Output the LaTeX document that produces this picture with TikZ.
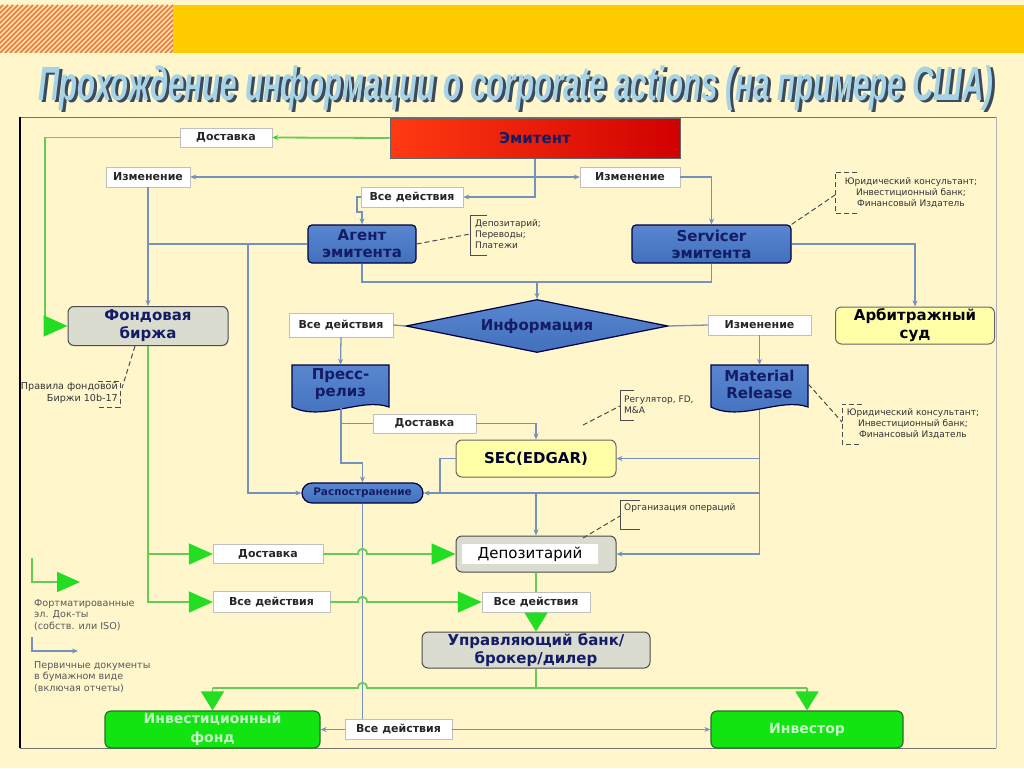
\documentclass[tikz,border=0pt]{standalone}
\usepackage{fontspec}
\setmainfont{Liberation Sans}
\newfontfamily\dv{DejaVu Sans}
\usetikzlibrary{arrows.meta,shapes.geometric}
\definecolor{bg}{HTML}{FFF6CC}
\definecolor{bandy}{HTML}{FFCC00}
\definecolor{hatchbg}{HTML}{FFE2B0}
\definecolor{hatchfg}{HTML}{EE7A3A}
\definecolor{titlec}{HTML}{A6D4E6}
\definecolor{titlesh}{HTML}{3C4A5C}
\definecolor{lnblue}{HTML}{7393BC}
\definecolor{lngreen}{HTML}{66CC55}
\definecolor{arrgreen}{HTML}{22DD22}
\definecolor{nbtop}{HTML}{5A86D0}
\definecolor{nbbot}{HTML}{4170BC}
\definecolor{navy}{HTML}{141C66}
\definecolor{boxgray}{HTML}{D9DCCF}
\definecolor{boxyel}{HTML}{FFFFA8}
\definecolor{grnfill}{HTML}{11E411}
\definecolor{grnborder}{HTML}{2A6E2A}
\definecolor{grntext}{HTML}{C4F4C4}
\definecolor{emitL}{HTML}{FF3A12}
\definecolor{emitR}{HTML}{D00000}
\tikzset{
 lbl/.style={draw=black!25, fill=white, inner sep=0pt, font=\dv\bfseries\fontsize{11}{13}\selectfont, text=black!85},
 bluebox/.style={draw=black!75!blue, line width=1.2pt, rounded corners=4pt, top color=nbtop, bottom color=nbbot, inner sep=0pt, align=center, font=\dv\bfseries\fontsize{15}{17}\selectfont, text=navy},
 graybox/.style={draw=black!70, line width=1pt, rounded corners=6pt, fill=boxgray, inner sep=0pt, align=center, font=\dv\bfseries\fontsize{15}{18}\selectfont, text=navy},
 yelbox/.style={draw=black!60, line width=1pt, rounded corners=6pt, fill=boxyel, inner sep=0pt, align=center, font=\dv\bfseries\fontsize{15}{18}\selectfont, text=black!85!blue},
 grnbox/.style={draw=grnborder, line width=1.2pt, rounded corners=6pt, fill=grnfill, inner sep=0pt, align=center, font=\dv\bfseries\fontsize{14}{19}\selectfont, text=grntext},
 docbox/.style={inner sep=0pt, align=center, font=\dv\bfseries\fontsize{15}{17}\selectfont, text=navy},
 docshape/.style={draw=black!75!blue, line width=1.2pt, top color=nbtop, bottom color=nbbot},
 ann/.style={font=\dv\fontsize{9}{11}\selectfont, text=black!80, inner sep=0pt},
 legtxt/.style={font=\dv\fontsize{9.6}{11.5}\selectfont, text=black!65, inner sep=0pt},
 bl/.style={draw=lnblue, line width=1.3pt},
 bla/.style={bl, -{Stealth[length=6pt,width=5pt]}},
 gl/.style={draw=lngreen, line width=1.8pt},
 gla/.style={gl, -{Triangle[length=24pt,width=21pt,color=arrgreen]}},
 glad/.style={gl, -{Triangle[length=19pt,width=23pt,color=arrgreen]}},
 dsh/.style={draw=black!70, line width=1pt, dash pattern=on 5pt off 3pt},
 brk/.style={draw=black!70, line width=0.9pt},
}
\begin{document}
\begin{tikzpicture}[x=1pt,y=-1pt]
\useasboundingbox (0,0) rectangle (1024,768);
\fill[bg] (0,0) rectangle (1024,768);
% top band
\fill[bandy] (173,5) rectangle (1024,53);
\fill[hatchbg] (0,5) rectangle (173,53);
\begin{scope}
\clip (0,5) rectangle (173,53);
\foreach \i in {-60,-55,...,180} \draw[hatchfg, line width=1.6pt] (\i,53) -- (\i+48,5);
\end{scope}
% title
\node[anchor=base west, inner sep=0, text=titlesh] at (41.5,102.5) {\resizebox{955pt}{\height}{\bfseries\itshape\fontsize{48}{50}\selectfont Прохождение информации о corporate actions (на примере США)}};
\node[anchor=base west, inner sep=0, text=titlec] (title) at (38.5,100) {\resizebox{955pt}{\height}{\bfseries\itshape\fontsize{48}{50}\selectfont Прохождение информации о corporate actions (на примере США)}};
% frame
\draw[black!55, line width=0.9pt] (20,117) -- (996,117);
\draw[black!30, line width=0.9pt] (996,117) -- (996,748);
\draw[black!55, line width=0.9pt] (20,748) -- (996,748);
\draw[black, line width=1.6pt] (20,117) -- (20,748);

% document shapes
\draw[docshape] (292,365) -- (389,365) -- (389,407) .. controls (362,397) and (322,422) .. (292,407) -- cycle;
\draw[docshape] (711,365) -- (808,365) -- (808,407) .. controls (781,397) and (741,422) .. (711,407) -- cycle;

% nodes
\node[draw=black!60, line width=1pt, left color=emitL, right color=emitR, minimum width=290, minimum height=40, inner sep=0, font=\dv\bfseries\fontsize{15}{17}\selectfont, text=navy] (emit) at (535,138) {Эмитент};
\node[lbl, minimum width=92, minimum height=19] (dost1) at (226,137.5) {Доставка};
\node[lbl, minimum width=84, minimum height=20] (izm1) at (148,177) {Изменение};
\node[lbl, minimum width=100, minimum height=20] (izm2) at (630,177) {Изменение};
\node[lbl, minimum width=102, minimum height=20] (vse1) at (412,197) {Все действия};
\node[bluebox, minimum width=108, minimum height=38] (agent) at (362,244) {Агент\\эмитента};
\node[bluebox, minimum width=159, minimum height=38] (serv) at (711.5,244) {Servicer\\эмитента};
\node[diamond, aspect=5, draw=black!75!blue, line width=1.2pt, top color=nbtop, bottom color=nbbot, minimum width=262, minimum height=53, inner sep=0, font=\dv\bfseries\fontsize{15}{17}\selectfont, text=navy] (info) at (537,326) {Информация};
\node[lbl, minimum width=104, minimum height=24] (vse2) at (341,325) {Все действия};
\node[lbl, minimum width=103, minimum height=20] (izm3) at (759.5,325) {Изменение};
\node[graybox, minimum width=160, minimum height=39] (birzha) at (148,326) {Фондовая\\биржа};
\node[yelbox, minimum width=159, minimum height=37, text=black!85!navy] (sud) at (915,325.5) {Арбитражный\\суд};
\node[docbox, minimum width=97, minimum height=38] (press) at (340.5,384) {Пресс-\\релиз};
\node[docbox, minimum width=97, minimum height=38] (matrel) at (759.5,384) {Material\\Release};
\node[lbl, minimum width=103, minimum height=19] (dost2) at (424.5,423.5) {Доставка};
\node[yelbox, minimum width=160, minimum height=37] (sec) at (536,458.5) {SEC(EDGAR)};
\node[draw=black!75!blue, line width=1.2pt, rounded corners=10pt, top color=nbtop, bottom color=nbbot, minimum width=121, minimum height=20, inner sep=0, font=\dv\bfseries\fontsize{10.5}{12}\selectfont, text=navy] (rasp) at (362.5,493) {Распостранение};
\node[graybox, minimum width=160, minimum height=36] (depo) at (536,554) {};
\node[fill=white, minimum width=136, minimum height=20, inner sep=0, font=\dv\fontsize{15}{17}\selectfont, text=black] (depot) at (530,554) {Депозитарий};
\node[lbl, minimum width=110, minimum height=19] (dost3) at (268,554) {Доставка};
\node[lbl, minimum width=117, minimum height=21] (vse3) at (271.5,602) {Все действия};
\node[lbl, minimum width=108, minimum height=20] (vse4) at (536,602) {Все действия};
\node[graybox, minimum width=228, minimum height=36] (bank) at (536,650) {Управляющий банк/\\брокер/дилер};
\node[grnbox, minimum width=215, minimum height=37] (fond) at (212.5,729.5) {Инвестиционный\\фонд};
\node[grnbox, minimum width=192, minimum height=37] (investor) at (807,729.5) {Инвестор};
\node[lbl, minimum width=107, minimum height=20] (vse5) at (398.5,729.5) {Все действия};

% annotations
\node[ann, anchor=west, align=left] (a1) at (475,234) {Депозитарий;\\Переводы;\\Платежи};
\draw[brk] (487,215) -- (470,215) -- (470,255) -- (487,255);
\coordinate (b1) at (470,234);
\draw[dsh] (agent.east) -- (b1);

\node[ann, align=center] (a2) at (911,193) {Юридический консультант;\\Инвестиционный банк;\\Финансовый Издатель};
\draw[dsh] (857,172) -- (835,172) -- (835,213) -- (857,213);
\coordinate (b2) at (835,195);
\draw[dsh] (serv.north east) -- (b2);

\node[ann, anchor=west, align=left] (a3) at (624,404.5) {Регулятор, FD,\\M\&A};
\draw[brk] (634,390) -- (620,390) -- (620,420) -- (634,420);
\coordinate (b3) at (620,406);
\coordinate (d3) at (583,425);
\draw[dsh] (d3) -- (b3);

\node[ann, align=center] (a4) at (913,424) {Юридический консультант;\\Инвестиционный банк;\\Финансовый Издатель};
\draw[dsh] (862,404) -- (842,404) -- (842,444) -- (862,444);
\coordinate (b4) at (842,422);
\draw[dsh] (matrel.east) -- (b4);

\node[ann, anchor=west] (a5) at (624,508) {Организация операций};
\draw[brk] (640,500) -- (620,500) -- (620,529) -- (640,529);
\coordinate (b5) at (620,516);
\coordinate (d5) at (583,538);
\draw[dsh] (d5) -- (b5);

\node[legtxt, text=black!80, anchor=east, align=right] (a6) at (118,393) {Правила фондовой\\Биржи 10b-17};
\draw[dsh] (98,381) -- (120,381) -- (120,407) -- (98,407);
\coordinate (b6) at (122,388);
\draw[dsh] ([xshift=-13pt]birzha.south) -- (b6);

% legend
\coordinate (lg1) at (32,558);
\coordinate (lg2) at (80,582);
\draw[gl, -{Triangle[length=23pt,width=20pt,color=arrgreen]}] (lg1) |- (lg2);
\node[legtxt, anchor=north west, align=left] (lt1) at (34,599) {Фортматированные\\эл. Док-ты\\(собств. или ISO)};
\coordinate (lb1) at (32,637);
\coordinate (lb2) at (78,651);
\draw[bla] (lb1) |- (lb2);
\node[legtxt, anchor=north west, align=left] (lt2) at (34,661) {Первичные документы\\в бумажном виде\\(включая отчеты)};

% blue connectors
\coordinate (j1) at (535,177);
\draw[bla] (emit.south) |- (vse1.east);
\draw[bla] (j1) -- (izm1.east);
\draw[bla] (j1) -- (izm2.west);
\draw[bla] (vse1.west) -- (357,197) -- (357,212) -| (agent.north);
\draw[bla] (izm1.south) -- (birzha.north);
\coordinate (j2) at (148,244);
\draw[bl] (j2) -- (agent.west);
\coordinate (j2b) at (248,244);
\draw[bla] (j2b) |- (rasp.west);
\draw[bla] (izm2.east) -| (serv.north);
\coordinate (j3) at (537,282);
\draw[bla] (agent.south) |- (j3) -- (info.north);
\draw[bl] (serv.south) |- (j3);
\draw[bla] (serv.east) -| (sud.north);
\draw[bl] (info.west) -- (vse2.east);
\draw[bl] (info.east) -- (izm3.west);
\draw[bla] (vse2.south) -- (press.north);
\draw[bla] (izm3.south) -- (matrel.north);
\coordinate (pb) at (341,408);
\draw[bla] (pb) -- (341,463) -| (rasp.north);
\draw[bl] (pb |- dost2.west) -- (dost2.west);
\draw[bla] (dost2.east) -| (sec.north);
\coordinate (mb) at (759.5,410);
\draw[bla] (mb) |- (depo.east);
\draw[bla] (mb |- sec.east) -- (sec.east);
\draw[bla] (mb |- rasp.east) -- (rasp.east);
\draw[bla] (sec.south |- rasp.east) -- (depo.north);
\draw[bl] (sec.west) -- (440,458.5) -- (440,493);
\draw[bl] (rasp.south) -- (rasp.south |- vse5.north);
\draw[bla] (vse5.west) -- (fond.east);
\draw[bla] (vse5.east) -- (investor.west);

% green connectors
\draw[gl, -{Stealth[length=6pt,width=5pt,color=arrgreen]}] (emit.west) -- (dost1.east);
\draw[gla] (dost1.west) -- (45,137.5) |- (birzha.west);
\draw[gla] (birzha.south) |- (vse3.west);
\draw[gla] (birzha.south |- dost3.west) -- (dost3.west);
\draw[gla] (dost3.east) -- (358,554) .. controls (358,547) and (367,547) .. (367,554) -- (depo.west);
\draw[gla] (vse3.east) -- (358,602) .. controls (358,595) and (367,595) .. (367,602) -- (vse4.west);
\draw[gl] (depo.south) -- (vse4.north);
\draw[glad] (vse4.south) -- (bank.north);
\coordinate (gj) at (536,688);
\draw[gl] (bank.south) -- (gj);
\coordinate (gL) at (212.5,688);
\coordinate (gR) at (807,688);
\draw[gl] (gL) -- (358,688) .. controls (358,681) and (367,681) .. (367,688) -- (gR);
\draw[glad] (gL) -- (fond.north);
\draw[glad] (gR) -- (investor.north);
\end{tikzpicture}
\end{document}
